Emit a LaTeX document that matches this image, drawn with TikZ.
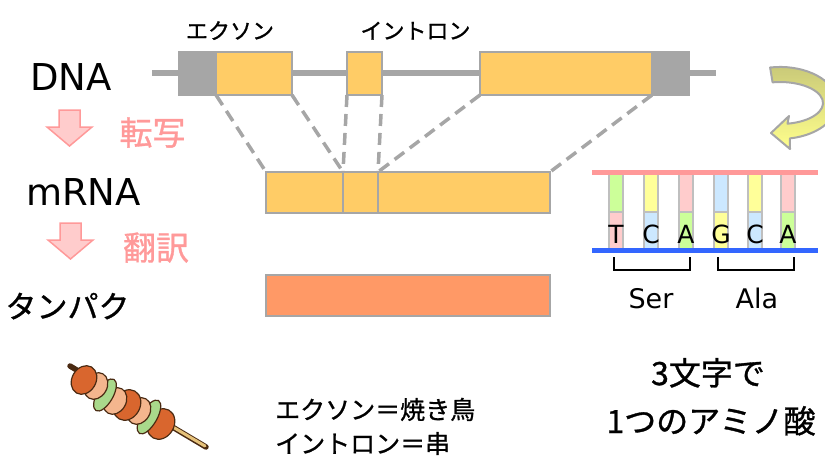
\documentclass[tikz,border=0pt]{standalone}
\usepackage{fontspec}
\setmainfont{Noto Sans CJK JP}[FakeBold=1]
\newfontfamily\latinfont{DejaVu Sans}
\newcommand\fsz[1]{\fontsize{#1}{#1}\selectfont}

\definecolor{exon}{HTML}{FFCC66}
\definecolor{utr}{HTML}{A6A6A6}
\definecolor{edge}{HTML}{A6A6A6}
\definecolor{prot}{HTML}{FF9966}
\definecolor{pinkfill}{HTML}{FFCCCC}
\definecolor{pinkline}{HTML}{FF9999}
\definecolor{nucgreen}{HTML}{CCFF99}
\definecolor{nucyellow}{HTML}{FFFF99}
\definecolor{nucblue}{HTML}{CCE8FF}
\definecolor{nucpink}{HTML}{FFCCCC}
\definecolor{nucedge}{HTML}{BFBFBF}
\definecolor{strandred}{HTML}{FF9999}
\definecolor{strandblue}{HTML}{3366FF}
\definecolor{arrowtop}{HTML}{C8C878}
\definecolor{arrowbottom}{HTML}{FFFF8C}
\definecolor{meat}{HTML}{D9662E}
\definecolor{peach}{HTML}{F4B68E}
\definecolor{pepper}{HTML}{A9D98B}
\definecolor{stick}{HTML}{E6C27A}
\definecolor{ink}{HTML}{4A2A12}

\tikzset{
  seg/.style={draw=edge, line width=2.2pt, inner sep=0pt, outer sep=0pt,
    minimum height=43pt, anchor=north west},
  link/.style={draw=edge, line width=3.5pt, dash pattern=on 12pt off 7pt},
  backbone/.style={draw=utr, line width=6pt},
  txt/.style={inner sep=0pt, anchor=base},
  nucbox/.style={draw=nucedge, line width=1.6pt, inner sep=0pt,
    minimum width=14pt, minimum height=38pt, anchor=north},
  nuclabel/.style={inner sep=0pt, anchor=base, font=\latinfont\fsz{25}},
  bracket/.style={draw=black, line width=2.5pt},
  downarrow/.pic={
    \draw[fill=pinkfill, draw=pinkline, line width=1.5pt, line join=miter]
      (-10.5,0) -- (10.5,0) -- (10.5,17) -- (22.5,17) -- (0,36)
      -- (-22.5,17) -- (-10.5,17) -- cycle;
  },
  piece/.style={draw=ink, line width=1.2pt}
}

\begin{document}
\begin{tikzpicture}[x=1pt,y=-1pt]
\clip (0,0) rectangle (825,458);

% ---------- gene on the DNA ----------
\coordinate (dnaL) at (152,73);
\coordinate (dnaR) at (716,73);
\draw[backbone] (dnaL) -- (dnaR);

\node[seg, fill=utr,  minimum width=37pt]  (u5)  at (179,52) {};
\node[seg, fill=exon, minimum width=76pt]  (ex1) at (216,52) {};
\node[seg, fill=exon, minimum width=35pt]  (ex2) at (347,52) {};
\node[seg, fill=exon, minimum width=172pt] (ex3) at (480,52) {};
\node[seg, fill=utr,  minimum width=37pt]  (u3)  at (652,52) {};

% ---------- spliced mRNA ----------
\node[seg, fill=exon, minimum width=77pt,  minimum height=41pt] (m1) at (266,172) {};
\node[seg, fill=exon, minimum width=35pt,  minimum height=41pt] (m2) at (343,172) {};
\node[seg, fill=exon, minimum width=172pt, minimum height=41pt] (m3) at (378,172) {};

\draw[link] (ex1.south west) -- (m1.north west);
\draw[link] (ex1.south east) -- (m1.north east);
\draw[link] (ex2.south west) -- (m2.north west);
\draw[link] (ex2.south east) -- (m2.north east);
\draw[link] (ex3.south west) -- (m3.north west);
\draw[link] (ex3.south east) -- (m3.north east);

% ---------- protein ----------
\node[seg, fill=prot, minimum width=284pt, minimum height=41pt] (prot) at (266,275) {};

% ---------- labels ----------
\node[txt, font=\fsz{22}] (lblexon)   at (230,39)   {エクソン};
\node[txt, font=\fsz{22}] (lblintron) at (415.5,39) {イントロン};

\node[txt, font=\latinfont\fsz{37}] (dna)  at (71,90)    {DNA};
\node[txt, font=\latinfont\fsz{37}] (mrna) at (83.5,205) {mRNA};
\node[txt, font=\fsz{31}] (protein) at (67.5,318) {タンパク};

\pic at (69.5,110) {downarrow};
\pic at (70.5,223) {downarrow};
\node[txt, font=\fsz{33}, text=pinkline] (transcr) at (152.5,145) {転写};
\node[txt, font=\fsz{33}, text=pinkline] (transl)  at (156,260)   {翻訳};

% ---------- codons ----------
\foreach \x/\t/\b/\l [count=\i] in {
    616/nucgreen/nucpink/T, 651/nucyellow/nucblue/C, 686/nucpink/nucgreen/A,
    721/nucblue/nucyellow/G, 755/nucyellow/nucblue/C, 788/nucpink/nucgreen/A} {
  \node[nucbox, fill=\t] (top\i) at (\x,173) {};
  \node[nucbox, fill=\b] (bot\i) at (\x,211) {};
  \node[nuclabel] (base\i) at (\x,243) {\l};
}
\coordinate (senseL) at (592,172);
\coordinate (senseR) at (818,172);
\coordinate (antiL)  at (592,250);
\coordinate (antiR)  at (818,250);
\draw[strandred,  line width=5pt] (senseL) -- (senseR);
\draw[strandblue, line width=5pt] (antiL) -- (antiR);

\draw[bracket] (614,257) -- (614,270) -- (690,270) -- (690,257);
\draw[bracket] (718,257) -- (718,270) -- (794,270) -- (794,257);
\node[txt, font=\latinfont\fsz{27}] (ser) at (651,308) {Ser};
\node[txt, font=\latinfont\fsz{27}] (ala) at (757,308) {Ala};

% ---------- curved arrow ----------
\path[top color=arrowtop, bottom color=arrowbottom, draw=edge, line width=2pt, line join=round]
  (770.1,67.5) arc[start angle=-100, end angle=80, x radius=57, y radius=36]
  -- (790,149) -- (771,133) -- (789,116) -- (787.5,123.7)
  arc[start angle=80, end angle=-100, x radius=43, y radius=21]
  -- cycle;

% ---------- yakitori ----------
\draw[line width=5.5pt, color=ink, line cap=round] (70,366) -- (206,447);
\draw[line width=3pt, color=stick, line cap=round] (95,381) -- (205,446);
\foreach \px/\py/\pc/\ra/\rb in {
    161/424/meat/16pt/13pt, 149/417/pepper/19pt/8pt, 139/411/peach/14pt/11pt,
    127/405/meat/16pt/13pt, 115/401/peach/14pt/11pt, 105/395/pepper/18pt/8pt,
    96/386/peach/14pt/11pt, 84/380/meat/15pt/12pt} {
  \draw[piece, fill=\pc, shift={(\px,\py)}, rotate=60]
    (0,0) ellipse [x radius=\ra, y radius=\rb];
}

% ---------- notes ----------
\node[inner sep=0pt, anchor=base west, font=\fsz{25}] (note1) at (275,419) {エクソン＝焼き鳥};
\node[inner sep=0pt, anchor=base west, font=\fsz{25}] (note2) at (275,453) {イントロン＝串};
\node[txt, font=\fsz{32}] (codon1) at (708,385) {3文字で};
\node[txt, font=\fsz{32}] (codon2) at (711,433) {1つのアミノ酸};
\end{tikzpicture}
\end{document}
